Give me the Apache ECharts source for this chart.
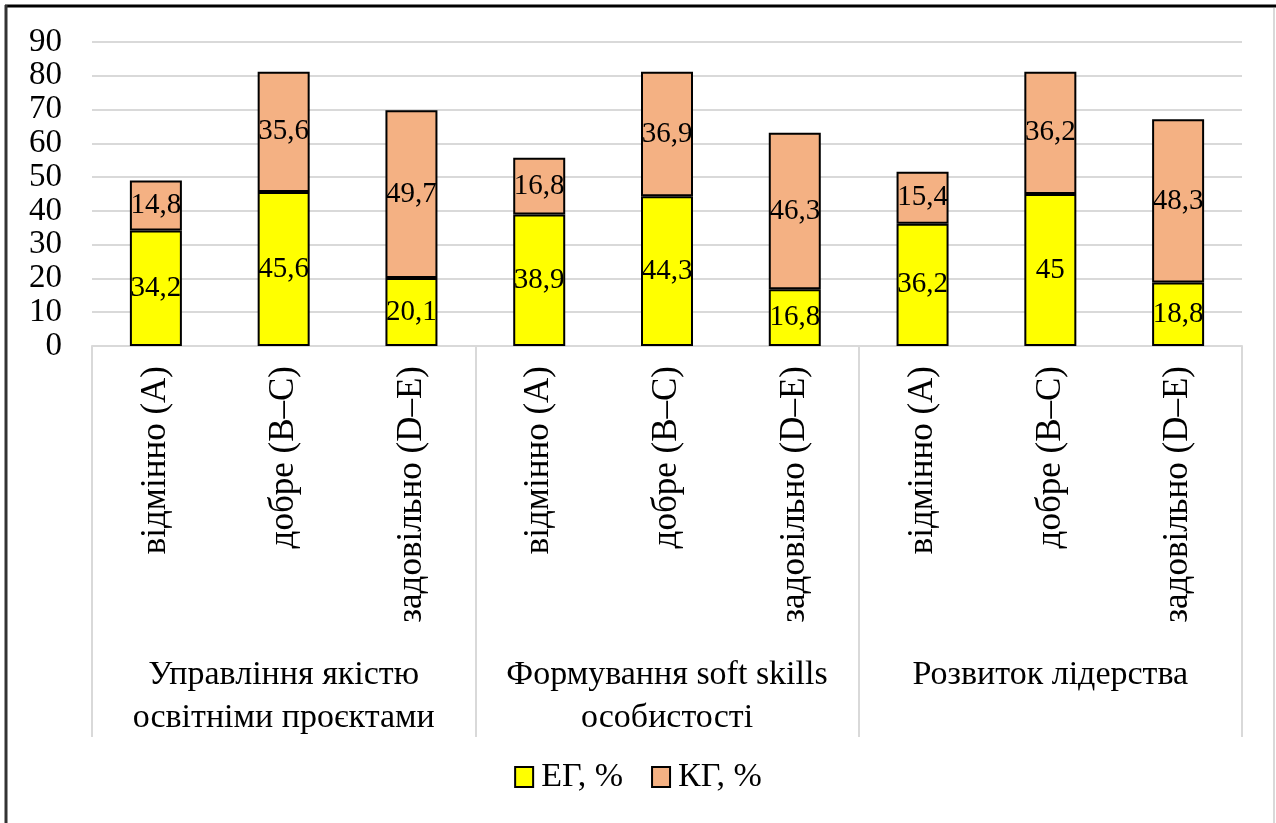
<!DOCTYPE html>
<html>
<head>
<meta charset="utf-8">
<script src="https://cdn.jsdelivr.net/npm/echarts@6/dist/echarts.min.js"></script>
<style>
html,body{margin:0;padding:0;background:#fff;}
#c{width:1276px;height:823px;}
</style>
</head>
<body>
<div id="c"></div>
<script>
const categories = ['відмінно (A)','добре (B–C)','задовільно (D–E)','відмінно (A)','добре (B–C)','задовільно (D–E)','відмінно (A)','добре (B–C)','задовільно (D–E)'];
const groups = ['Управління якістю\nосвітніми проєктами','Формування soft skills\nособистості','Розвиток лідерства'];
const seriesNames = ['ЕГ, %','КГ, %'];
const egValues = [34.2, 45.6, 20.1, 38.9, 44.3, 16.8, 36.2, 45, 18.8];
const kgValues = [14.8, 35.6, 49.7, 16.8, 36.9, 46.3, 15.4, 36.2, 48.3];

const FONT = '"Liberation Serif", "DejaVu Serif", serif';
const fmt = p => String(p.value).replace('.', ',');

const chart = echarts.init(document.getElementById('c'), null, {renderer:'canvas'});
chart.setOption({
  backgroundColor:'#fff',
  animation:false,
  textStyle:{fontFamily:FONT},
  grid:{left:92, right:34, top:42, bottom:477, containLabel:false},
  legend:{
    bottom:24, left:'center',
    itemWidth:18, itemHeight:20, itemGap:28,
    textStyle:{fontFamily:FONT, fontSize:34, color:'#000', padding:[0,0,0,3]},
    data:seriesNames.map(n=>({name:n, icon:'rect', itemStyle:{borderColor:'#000', borderWidth:2}}))
  },
  xAxis:[
    {type:'category', data:categories, position:'bottom',
     axisLine:{show:true, lineStyle:{color:'#d9d9d9', width:2}},
     axisTick:{show:false},
     axisLabel:{interval:0, rotate:90, margin:20, fontFamily:FONT, fontSize:35, color:'#000'}
    },
    {type:'category', data:groups, position:'bottom', gridIndex:0,
     axisLine:{show:false},
     axisTick:{show:true, length:391, lineStyle:{color:'#d9d9d9', width:2}},
     axisLabel:{interval:0, margin:308, fontFamily:FONT, fontSize:34, lineHeight:43, color:'#000', verticalAlign:'top'}
    }
  ],
  yAxis:{type:'value', min:0, max:90, interval:10,
    axisLine:{show:false}, axisTick:{show:false},
    splitLine:{lineStyle:{color:'#d9d9d9', width:2}},
    axisLabel:{margin:30, fontFamily:FONT, fontSize:33, color:'#000', showMinLabel:true, showMaxLabel:true, hideOverlap:false}
  },
  series:[
    {name:seriesNames[0], type:'bar', stack:'a', data:egValues, barWidth:52, xAxisIndex:0,
     itemStyle:{color:'#ffff00', borderColor:'#000', borderWidth:2},
     label:{show:true, position:'inside', formatter:fmt, fontFamily:FONT, fontSize:29, color:'#000'}},
    {name:seriesNames[1], type:'bar', stack:'a', data:kgValues, barWidth:52, xAxisIndex:0,
     itemStyle:{color:'#f4b183', borderColor:'#000', borderWidth:2},
     label:{show:true, position:'inside', formatter:fmt, fontFamily:FONT, fontSize:29, color:'#000'}}
  ],
  graphic:[
    {type:'line', shape:{x1:5, y1:6, x2:1276, y2:6}, style:{stroke:'#000', lineWidth:3}},
    {type:'line', shape:{x1:6, y1:5, x2:6, y2:823}, style:{stroke:'#333', lineWidth:3}},
    {type:'line', shape:{x1:1274, y1:8, x2:1274, y2:823}, style:{stroke:'#d9d9d9', lineWidth:2}}
  ]
});
</script>
</body>
</html>
